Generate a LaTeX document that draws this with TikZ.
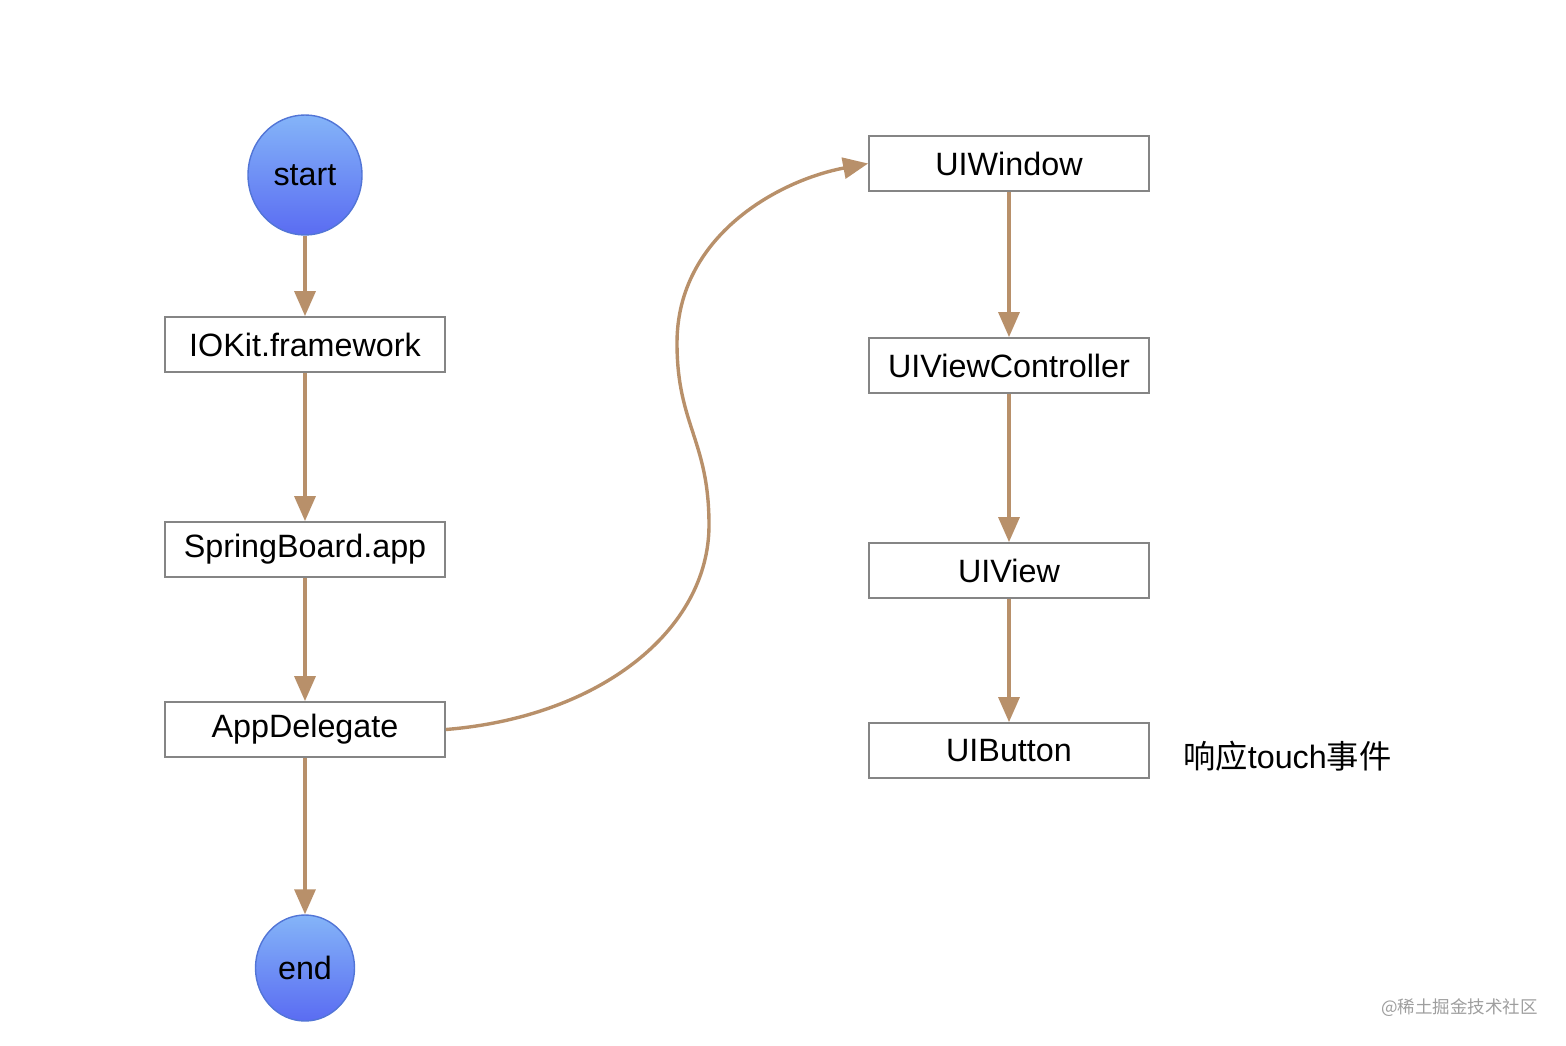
\documentclass[tikz,border=0pt]{standalone}
\usepackage{fontspec}
\setmainfont{Liberation Sans}
\newfontfamily\cjk{Noto Sans CJK SC}
\usetikzlibrary{arrows.meta,shapes.geometric}
\definecolor{arr}{HTML}{B8906A}
\definecolor{boxline}{HTML}{858585}
\definecolor{ctop}{HTML}{84B4F8}
\definecolor{cbot}{HTML}{5A6CF2}
\definecolor{cline}{HTML}{5275D6}
\begin{document}
\begin{tikzpicture}[x=1pt,y=-1pt,
  lbl/.style={font=\fontsize{32.3}{36}\selectfont},
  stepbox/.style={draw=boxline,line width=1.8pt,minimum width=280pt,minimum height=55pt,inner sep=0pt,fill=white,lbl},
  term/.style={ellipse,draw=cline,line width=1.4pt,top color=ctop,bottom color=cbot,inner sep=0pt,lbl},
  flow/.style={draw=arr,line width=3.4pt,-{Triangle[length=25pt,width=21pt]}}]
\useasboundingbox (0,0) rectangle (1566,1046);
\node[term,minimum width=114pt,minimum height=120pt] (start) at (305,175) {start};
\node[stepbox] (iokit) at (305,344.5) {IOKit.framework};
\node[stepbox] (spring) at (305,549.5) {SpringBoard.app};
\node[stepbox] (appdel) at (305,729.5) {AppDelegate};
\node[term,minimum width=99pt,minimum height=106pt] (end) at (305,968) {end};
\node[stepbox] (win) at (1009,163.5) {UIWindow};
\node[stepbox] (vc) at (1009,365.5) {UIViewController};
\node[stepbox] (view) at (1009,570.5) {UIView};
\node[stepbox] (btn) at (1009,750.5) {UIButton};
\node[lbl,anchor=west,inner sep=0pt] (touch) at (1183,756) {{\cjk 响应}touch{\cjk 事件}};
\node[anchor=east,inner sep=0pt,text=black!38,font=\cjk\fontsize{17.5}{20}\selectfont] (wm) at (1538,1008) {@稀土掘金技术社区};
\draw[flow] (start) -- (iokit);
\draw[flow] (iokit) -- (spring);
\draw[flow] (spring) -- (appdel);
\draw[flow] (appdel) -- (end);
\draw[flow] (win) -- (vc);
\draw[flow] (vc) -- (view);
\draw[flow] (view) -- (btn);
\coordinate (p1) at (709,525);
\coordinate (p2) at (677,343);
\draw[flow] (appdel.east) .. controls (600,717) and (709,630) .. (p1)
  .. controls (709,440) and (677,425) .. (p2)
  .. controls (677,235) and (780,180) .. (win.west);
\end{tikzpicture}
\end{document}
